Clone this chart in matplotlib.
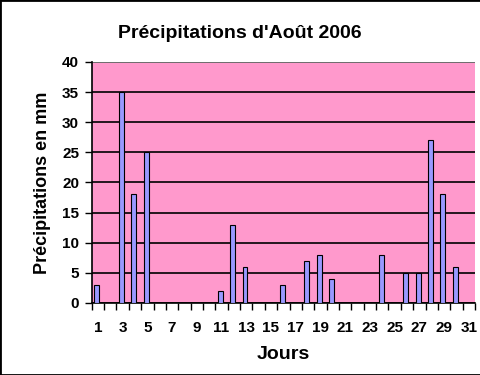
import matplotlib.pyplot as plt
import matplotlib.ticker as mtick
from matplotlib.patches import Rectangle

jours = list(range(1, 32))
pluie = [3, 0, 35, 18, 25, 0, 0, 0, 0, 0, 2, 13, 6, 0, 0, 3, 0, 7, 8, 4,
         0, 0, 0, 8, 0, 5, 5, 27, 18, 6, 0]
y_ticks = [0, 5, 10, 15, 20, 25, 30, 35, 40]

plt.rcParams['font.family'] = ['Liberation Sans', 'DejaVu Sans']
plt.rcParams['font.weight'] = 'bold'

fig = plt.figure(figsize=(4.81, 3.75), dpi=100)
ax = fig.add_axes([0.1906, 0.192, 0.797, 0.643])
ax.set_facecolor('#FF99CC')

ax.bar([j - 0.1 for j in jours], pluie, width=0.4, color='#9999FF',
       edgecolor='black', linewidth=0.8, zorder=3)

ax.set_xlim(0.5, 31.5)
ax.set_ylim(0, 40)
ax.set_yticks(y_ticks)
ax.yaxis.grid(True, color='black', linewidth=1.2, zorder=1)
ax.set_axisbelow(True)

ax.xaxis.set_major_locator(mtick.FixedLocator(jours[::2]))
ax.xaxis.set_minor_locator(mtick.FixedLocator([j + 0.5 for j in range(0, 32)]))
ax.tick_params(axis='x', which='major', length=0, pad=13, labelsize=11)
ax.tick_params(axis='x', which='minor', length=5, width=1, direction='out')
ax.tick_params(axis='y', length=5, width=1, direction='out', labelsize=11, pad=4)

for side in ['top', 'right']:
    ax.spines[side].set_visible(False)
ax.spines['left'].set_linewidth(1.2)
ax.spines['bottom'].set_linewidth(1.2)
ax.axhline(40, color='#808080', linewidth=1.2, zorder=2)

ax.set_title("Précipitations d'Août 2006", fontsize=14, fontweight='bold', pad=17, x=0.386)
ax.set_xlabel('Jours', fontsize=14, fontweight='bold', labelpad=8)
ax.set_ylabel('Précipitations en mm', fontsize=13, fontweight='bold', labelpad=8)

fig.patches.append(Rectangle((0, 0), 1, 1, transform=fig.transFigure,
                             fill=False, edgecolor='black', linewidth=2))

fig.savefig('out.png', dpi=100)
